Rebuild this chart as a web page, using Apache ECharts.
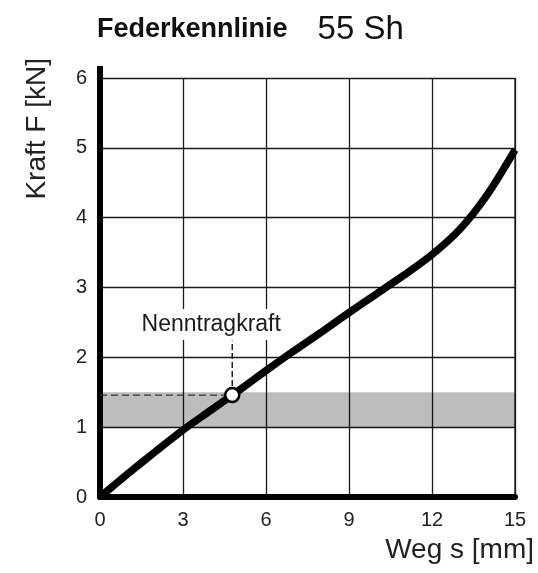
<!DOCTYPE html>
<html><head><meta charset="utf-8">
<script src="https://cdn.jsdelivr.net/npm/echarts@6/dist/echarts.min.js"></script>
<style>html,body{margin:0;padding:0;background:#fff}#c{width:538px;height:573px}</style>
</head><body><div id="c"></div>
<script>
const xTicks = [0, 3, 6, 9, 12, 15];
const yTicks = [0, 1, 2, 3, 4, 5, 6];
const wegS   = [0, 1, 2, 3, 4, 5, 6, 7, 8, 9, 10, 11, 12, 13, 14, 15];
const kraftF = [0, 0.33, 0.65, 0.96, 1.24, 1.52, 1.81, 2.09, 2.36, 2.64, 2.91, 3.18, 3.47, 3.83, 4.33, 4.97];
const bandRange = [1.0, 1.5];
const nennPoint = [4.78, 1.46];
const nennLabel = 'Nenntragkraft';
const nennLabelPos = [4.02, 2.47];
const nennLeaderTop = 2.24;

const chart = echarts.init(document.getElementById('c'));
const curve = wegS.map((x, i) => [x, kraftF[i]]);
chart.setOption({
  animation: false,
  title: {
    text: '{a|Federkennlinie}{s|}{b|55 Sh}',
    left: 92, top: 8,
    textStyle: { fontWeight: 'normal', rich: {
      a: { fontFamily: 'Liberation Sans', fontWeight: 'bold', fontSize: 27, color: '#111' },
      s: { width: 30 },
      b: { fontFamily: 'Liberation Sans', fontWeight: 'normal', fontSize: 33, color: '#111' }
    } }
  },
  grid: { left: 100, right: 23, top: 78, bottom: 76 },
  xAxis: {
    type: 'value', min: 0, max: 15, interval: 3,
    axisLine: { show: true, lineStyle: { color: '#000', width: 6 } },
    axisTick: { show: false },
    axisLabel: { fontFamily: 'Liberation Sans', fontSize: 20, color: '#222', margin: 13 },
    splitLine: { show: true, lineStyle: { color: '#1a1a1a', width: 1.3 } }
  },
  yAxis: {
    type: 'value', min: 0, max: 6, interval: 1,
    axisLine: { show: true, onZero: false, lineStyle: { color: '#000', width: 6 } },
    axisTick: { show: false },
    axisLabel: { fontFamily: 'Liberation Sans', fontSize: 20, color: '#222', margin: 13 },
    splitLine: { show: true, lineStyle: { color: '#1a1a1a', width: 1.3 } }
  },
  graphic: [
    { type: 'line', shape: { x1: 515, y1: 78, x2: 515, y2: 497 }, style: { stroke: '#1a1a1a', lineWidth: 1.3 } },
    { type: 'line', shape: { x1: 100, y1: 66, x2: 100, y2: 80 }, style: { stroke: '#000', lineWidth: 6 } },
    { type: 'text', left: 23, top: 58, rotation: Math.PI / 2,
      style: { text: 'Kraft F [kN]', font: '28px "Liberation Sans"', fill: '#222' } },
    { type: 'text', right: 4, top: 536,
      style: { text: 'Weg s [mm]', font: '28px "Liberation Sans"', fill: '#222' } }
  ],
  series: [
    {
      type: 'line', data: [], silent: true,
      markArea: {
        silent: true,
        itemStyle: { color: 'rgba(0,0,0,0.26)', borderWidth: 0 },
        data: [[{ xAxis: xTicks[0], yAxis: bandRange[0] }, { xAxis: xTicks[xTicks.length - 1], yAxis: bandRange[1] }]]
      }
    },
    {
      type: 'line', data: [[0, nennPoint[1]], [nennPoint[0], nennPoint[1]]], symbol: 'none',
      lineStyle: { color: '#333', width: 1.2, type: [7, 4] }, z: 3
    },
    {
      type: 'line', data: [[nennPoint[0], nennPoint[1]], [nennPoint[0], nennLeaderTop]], symbol: 'none',
      lineStyle: { color: '#222', width: 1.5, type: [6, 3] }, z: 3
    },
    {
      type: 'line', data: curve, smooth: 0.3, symbol: 'none',
      lineStyle: { color: '#000', width: 7.5 }, z: 5
    },
    {
      type: 'scatter', data: [nennPoint], symbol: 'circle', symbolSize: 14, z: 6,
      itemStyle: { color: '#fff', borderColor: '#000', borderWidth: 2.5, opacity: 1 }
    },
    {
      type: 'scatter', data: [nennLabelPos], symbolSize: 0, z: 7,
      itemStyle: { opacity: 1 },
      label: { show: true, position: 'inside', formatter: nennLabel,
        fontFamily: 'Liberation Sans', fontSize: 23, color: '#1a1a1a',
        backgroundColor: '#fff', padding: [4, 3] }
    }
  ]
});
</script></body></html>
